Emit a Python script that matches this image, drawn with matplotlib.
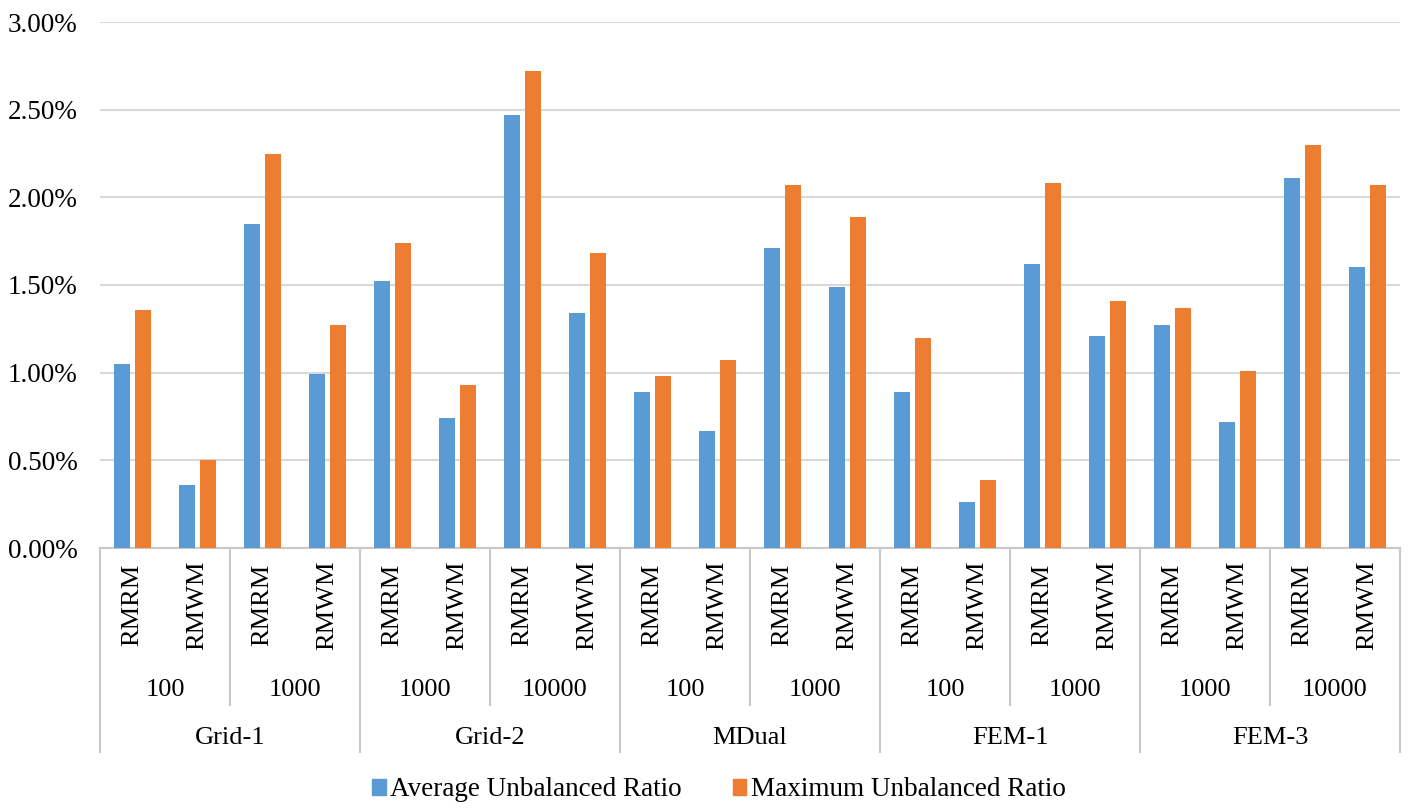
import numpy as np
import matplotlib.pyplot as plt
from matplotlib.patches import Patch
import matplotlib.transforms as mtransforms

plt.rcParams['font.family'] = ['Liberation Serif', 'DejaVu Serif']

# data
groups = ['Grid-1', 'Grid-2', 'MDual', 'FEM-1', 'FEM-3']
sizes = ['100', '1000', '1000', '10000', '100', '1000', '100', '1000', '1000', '10000']
methods = ['RMRM', 'RMWM'] * 10

avg_ratio = [1.05, 0.36, 1.85, 0.99,
             1.52, 0.74, 2.47, 1.34,
             0.89, 0.67, 1.71, 1.49,
             0.89, 0.26, 1.62, 1.21,
             1.27, 0.72, 2.11, 1.60]
max_ratio = [1.36, 0.50, 2.25, 1.27,
             1.74, 0.93, 2.72, 1.68,
             0.98, 1.07, 2.07, 1.89,
             1.20, 0.39, 2.08, 1.41,
             1.37, 1.01, 2.30, 2.07]

blue = '#5B9BD5'
orange = '#ED7D31'
line_col = '#C8C8C8'

W, H = 1415, 811
fig = plt.figure(figsize=(W / 100, H / 100), dpi=100)
ax = fig.add_axes([100 / W, (H - 548) / H, 1300 / W, (548 - 22) / H])

x = np.arange(len(methods))
bw = 0.245
ax.bar(x - 0.155, avg_ratio, bw, color=blue, zorder=3)
ax.bar(x + 0.155, max_ratio, bw, color=orange, zorder=3)

ax.set_xlim(-0.5, len(methods) - 0.5)
ax.set_ylim(0, 3.0)
ax.set_yticks(np.arange(0, 3.01, 0.5))
ax.set_yticklabels(['{:.2f}%'.format(v) for v in np.arange(0, 3.01, 0.5)], fontsize=19.5)
ax.tick_params(axis='y', length=0, pad=16)
ax.set_xticks([])
ax.grid(axis='y', color='#D9D9D9', linewidth=1.5, zorder=0)
for s in ['top', 'right', 'left']:
    ax.spines[s].set_visible(False)
ax.spines['bottom'].set_color(line_col)
ax.spines['bottom'].set_linewidth(1.5)

# multi-level category axis
trans = mtransforms.blended_transform_factory(ax.transData, ax.transAxes)
ph = 548 - 22
y_mid = -(705 - 548) / ph
y_bot = -(752 - 548) / ph

for b in range(0, len(methods) + 1, 2):
    xb = b - 0.5
    yb = y_bot if b % 4 == 0 else y_mid
    ax.plot([xb, xb], [0, yb], color=line_col, lw=1.5, transform=trans, clip_on=False)

for i, m in enumerate(methods):
    ax.text(i, -(605 - 548) / ph, m, rotation=90, ha='center', va='center',
            fontsize=19, transform=trans)

for j, s in enumerate(sizes):
    ax.text(2 * j + 0.5, -(690 - 548) / ph, s, ha='center', va='center',
            fontsize=19, transform=trans)

for k, g in enumerate(groups):
    ax.text(4 * k + 1.5, -(738 - 548) / ph, g, ha='center', va='center',
            fontsize=19, transform=trans)

handles = [Patch(color=blue, label='Average Unbalanced Ratio'),
           Patch(color=orange, label='Maximum Unbalanced Ratio')]
fig.legend(handles=handles, loc='center', bbox_to_anchor=(0.508, 1 - 790 / H), ncol=2,
           frameon=False, fontsize=19.5, handlelength=0.5, handleheight=0.5,
           handletextpad=0.15, columnspacing=1.9)

fig.savefig('out.png', dpi=100)
